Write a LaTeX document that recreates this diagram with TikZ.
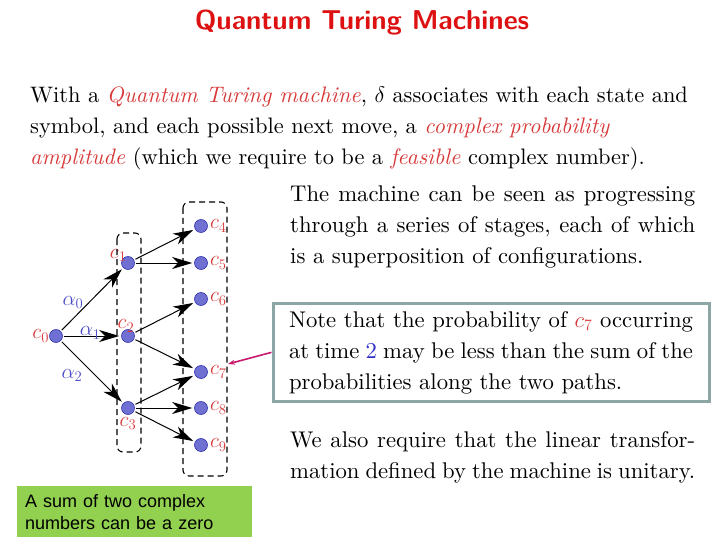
\RequirePackage{fix-cm}
\documentclass[tikz,border=0pt]{standalone}
\usepackage{fontspec}
\setmainfont{lmroman10-regular.otf}[ItalicFont=lmroman10-italic.otf,BoldFont=lmroman10-bold.otf]
\newfontfamily\titlefont{lmsans10-bold.otf}
\newfontfamily\hintfont{Liberation Sans}
\usetikzlibrary{arrows.meta,positioning}
\definecolor{titlered}{HTML}{DD1111}
\definecolor{emred}{HTML}{D83A3A}
\definecolor{numblue}{HTML}{3030C8}
\definecolor{alphablue}{HTML}{4A4AC8}
\definecolor{dotfill}{HTML}{7070D2}
\definecolor{dotline}{HTML}{3333B0}
\definecolor{notegray}{HTML}{8CA5A5}
\definecolor{pointmag}{HTML}{C8186E}
\definecolor{hintgreen}{HTML}{92D050}
\newcommand{\redit}[1]{\textcolor{emred}{\emph{#1}}}
\tikzset{
  para/.style={anchor=north west,inner sep=0pt,align=left,font=\fontsize{22.4}{31}\selectfont},
  justpara/.style={anchor=north west,inner sep=0pt,text width=405pt,align=justify,font=\fontsize{22.7}{31}\selectfont},
  dot/.style={draw=dotline,fill=dotfill,circle,minimum size=13pt,inner sep=0pt,line width=.6pt},
  clabel/.style={text=emred,inner sep=0pt,font=\fontsize{21}{25}\selectfont},
  alabel/.style={text=alphablue,inner sep=0pt,font=\fontsize{21}{25}\selectfont},
  flowarrow/.style={-{Stealth[length=20pt,width=12pt,inset=6pt]},line width=1pt,shorten >=2pt,shorten <=1.5pt},
  dashgroup/.style={dash pattern=on 6pt off 4pt,rounded corners=6pt,line width=1.1pt},
  notebox/.style={draw=notegray,line width=3pt,anchor=north west,text width=404pt,inner xsep=16pt,inner ysep=8pt,align=justify,font=\fontsize{22.7}{31}\selectfont},
  hintbox/.style={fill=hintgreen,anchor=north west,text width=219pt,minimum height=51pt,inner xsep=8pt,inner ysep=0pt,align=left,font=\hintfont\fontsize{18}{22}\selectfont},
  pointer/.style={-{Stealth[length=7pt,width=5pt]},draw=pointmag,line width=1.6pt},
}
\begin{document}
\begin{tikzpicture}[x=1pt,y=-1pt]
  \useasboundingbox (0,0) rectangle (720,540);
  \node[text=titlered,font=\titlefont\fontsize{27.3}{33}\selectfont] (title) at (362,23) {Quantum Turing Machines};
  \node[para] (intro) at (30,87) {With a \redit{Quantum Turing machine}, $\delta$ associates with each state and\\
    symbol, and each possible next move, a \redit{complex probability}\\
    \redit{amplitude} (which we require to be a \redit{feasible} complex number).};
  \node[justpara] (stages) at (290,186) {The machine can be seen as progressing\linebreak
    through a series of stages, each of which\linebreak
    is a superposition of configurations.};
  \node[notebox] (note) at (271.5,301.5) {Note that the probability of $\textcolor{emred}{c_7}$ occurring\linebreak
    at time \textcolor{numblue}{2} may be less than the sum of the\linebreak
    probabilities along the two paths.};
  \node[justpara] (unitary) at (290,431) {We also require that the linear transfor-\linebreak
    mation defined by the machine is unitary.};
  \node[hintbox] (hint) at (17,486) {A sum of two complex\\numbers can be a zero};

  % configurations
  \node[dot,label={[clabel]left:$c_0$}] (c0) at (56,336) {};
  \node[dot,label={[clabel,label distance=-5pt]135:$c_1$}] (c1) at (128,263) {};
  \node[dot,label={[clabel,label distance=-3pt,xshift=-2pt]above:$c_2$}] (c2) at (128,336) {};
  \node[dot,label={[clabel,label distance=2pt]below:$c_3$}] (c3) at (128,408) {};
  \node[dot,label={[clabel,label distance=2pt]right:$c_4$}] (c4) at (201,226) {};
  \node[dot,label={[clabel,label distance=2pt]right:$c_5$}] (c5) at (201,263) {};
  \node[dot,label={[clabel,label distance=2pt]right:$c_6$}] (c6) at (201,299) {};
  \node[dot,label={[clabel,label distance=2pt]right:$c_7$}] (c7) at (201,372) {};
  \node[dot,label={[clabel,label distance=2pt]right:$c_8$}] (c8) at (201,408) {};
  \node[dot,label={[clabel,label distance=2pt]right:$c_9$}] (c9) at (201,445) {};

  \draw[dashgroup] (117,233) rectangle (141,452);
  \draw[dashgroup] (183,202) rectangle (227,476);

  \draw[flowarrow] (c0)--node[alabel,pos=.45,left=5pt]{$\alpha_0$}(c1);
  \draw[flowarrow] (c0)--node[alabel,pos=.47,yshift=3pt]{$\alpha_1$}(c2);
  \draw[flowarrow] (c0)--node[alabel,pos=.45,below left=0pt and 6pt]{$\alpha_2$}(c3);
  \foreach \from/\to in {c1/c4,c1/c5,c2/c6,c2/c7,c3/c7,c3/c8,c3/c9}
    \draw[flowarrow] (\from)--(\to);

  \coordinate (tip7) at (228,364);
  \draw[pointer] (note.west)--(tip7);
\end{tikzpicture}
\end{document}
